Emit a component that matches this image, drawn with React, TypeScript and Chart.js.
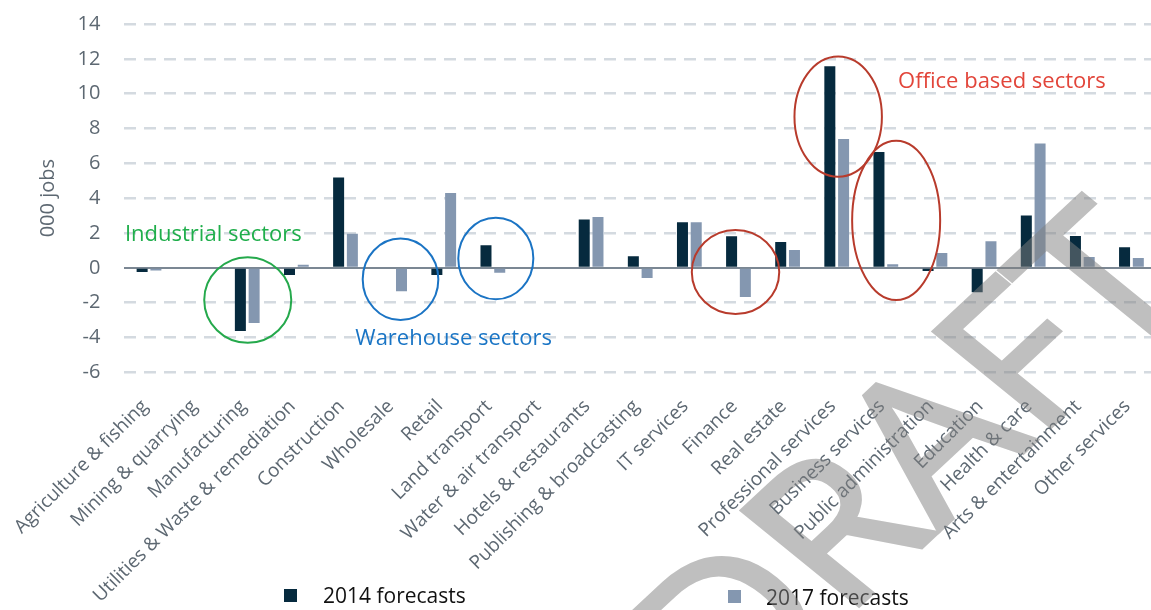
import React, { useEffect, useRef } from "react";
import { Chart, registerables } from "chart.js";

Chart.register(...registerables);

// ---------- data ----------
const categories = [
  "Agriculture & fishing",
  "Mining & quarrying",
  "Manufacturing",
  "Utilities & Waste & remediation",
  "Construction",
  "Wholesale",
  "Retail",
  "Land transport",
  "Water & air transport",
  "Hotels & restaurants",
  "Publishing & broadcasting",
  "IT services",
  "Finance",
  "Real estate",
  "Professional services",
  "Business services",
  "Public administration",
  "Education",
  "Health & care",
  "Arts & entertainment",
  "Other services",
];

const forecast2014 = [
  -0.24, 0, -3.63, -0.41, 5.18, 0, -0.41, 1.29, 0, 2.77, 0.66, 2.61, 1.81, 1.48,
  11.57, 6.65, -0.18, -1.41, 3.0, 1.82, 1.18,
];

const forecast2017 = [
  -0.16, 0, -3.17, 0.18, 1.96, -1.35, 4.3, -0.28, 0, 2.92, -0.58, 2.61, -1.68,
  1.02, 7.4, 0.2, 0.85, 1.52, 7.14, 0.62, 0.57,
];

const seriesLabels = ["2014 forecasts", "2017 forecasts"];
const yTickMin = -6;
const yTickMax = 14;
const yTickStep = 2;

// ---------- annotations (anchored in data space) ----------
const circleCategory = [2.01, 5.12, 7.06, 11.94, 14.03, 15.21];
const circleValue = [-1.85, -0.66, 0.53, -0.24, 8.68, 2.72];
const circleHalfWidth = [0.886, 0.77, 0.764, 0.89, 0.89, 0.896]; // in categories
const circleHalfHeight = [2.46, 2.34, 2.34, 2.41, 3.45, 4.57]; // in value units
const circleColor = ["#25a94c", "#1b74c4", "#1b74c4", "#b83b2c", "#b83b2c", "#b83b2c"];

const noteText = ["Industrial sectors", "Warehouse sectors", "Office based sectors"];
const noteCategory = [-0.49, 4.2, 15.25];
const noteValue = [1.88, -4.09, 10.67];
const noteColor = ["#1fae4b", "#1a75c5", "#e2453a"];

const DARK = "#062a3e";
const LIGHT = "#8497b0";
const TICK_COLOR = "#5d6872";
const FONT = "'Open Sans', 'Liberation Sans', sans-serif";

const annotationPlugin = {
  id: "sectorNotes",
  afterDatasetsDraw(chart: any) {
    const { ctx, scales } = chart;
    const x = scales.x;
    const y = scales.y;
    const catW = x.getPixelForValue(1) - x.getPixelForValue(0);
    const unitH = Math.abs(y.getPixelForValue(0) - y.getPixelForValue(1));
    ctx.save();
    for (let i = 0; i < circleCategory.length; i++) {
      ctx.beginPath();
      ctx.ellipse(
        x.getPixelForValue(circleCategory[i]),
        y.getPixelForValue(circleValue[i]),
        circleHalfWidth[i] * catW,
        circleHalfHeight[i] * unitH,
        0,
        0,
        Math.PI * 2
      );
      ctx.strokeStyle = circleColor[i];
      ctx.lineWidth = 2;
      ctx.stroke();
    }
    ctx.font = `22px ${FONT}`;
    ctx.textAlign = "left";
    ctx.textBaseline = "middle";
    for (let i = 0; i < noteText.length; i++) {
      ctx.fillStyle = noteColor[i];
      ctx.fillText(noteText[i], x.getPixelForValue(noteCategory[i]), y.getPixelForValue(noteValue[i]));
    }
    ctx.restore();
  },
};

const legendBoxX = [284, 728];
const legendBoxY = [589, 590];
const legendTextX = [323, 766];
const legendTextY = [597, 599];

const legendPlugin = {
  id: "spreadLegend",
  afterDraw(chart: any) {
    const { ctx } = chart;
    ctx.save();
    chart.data.datasets.forEach((ds: any, i: number) => {
      ctx.fillStyle = ds.backgroundColor;
      ctx.fillRect(legendBoxX[i], legendBoxY[i], 13, 13);
      ctx.fillStyle = "#111111";
      ctx.font = `21px ${FONT}`;
      ctx.textAlign = "left";
      ctx.textBaseline = "middle";
      ctx.fillText(ds.label, legendTextX[i], legendTextY[i]);
    });
    ctx.restore();
  },
};

// watermark: text axis (baseline) and down axis as measured on the reference
const WM_TEXT = "DRAFT";
const WM_SIZE = 210;
const WM_BASE = [0.7314, -0.682];
const WM_DOWN = [0.776, 0.631];
const WM_F_X = 1036;
const WM_F_Y = 440;

const watermarkPlugin = {
  id: "draftWatermark",
  afterDraw(chart: any) {
    const { ctx } = chart;
    const off = document.createElement("canvas");
    off.width = chart.width;
    off.height = chart.height;
    const o = off.getContext("2d");
    if (!o) return;
    o.setTransform(WM_BASE[0], WM_BASE[1], WM_DOWN[0], WM_DOWN[1], WM_F_X, WM_F_Y);
    o.font = `400 ${WM_SIZE}px ${FONT}`;
    o.fillStyle = "#808080";
    o.strokeStyle = "#808080";
    o.lineWidth = 5;
    o.lineJoin = "miter";
    o.textAlign = "left";
    o.textBaseline = "alphabetic";
    const pre = o.measureText(WM_TEXT.slice(0, 3)).width;
    o.fillText(WM_TEXT, -pre, 0);
    o.strokeText(WM_TEXT, -pre, 0);
    ctx.save();
    ctx.setTransform(1, 0, 0, 1, 0, 0);
    ctx.globalAlpha = 0.5;
    ctx.drawImage(off, 0, 0);
    ctx.restore();
  },
};

export default function App() {
  const canvasRef = useRef<HTMLCanvasElement | null>(null);

  useEffect(() => {
    if (!canvasRef.current) return;
    const chart = new Chart(canvasRef.current, {
      type: "bar",
      data: {
        labels: categories,
        datasets: [
          {
            label: seriesLabels[0],
            data: forecast2014,
            backgroundColor: DARK,
            categoryPercentage: 0.56,
            barPercentage: 0.8,
          },
          {
            label: seriesLabels[1],
            data: forecast2017,
            backgroundColor: LIGHT,
            categoryPercentage: 0.56,
            barPercentage: 0.8,
          },
        ],
      },
      options: {
        animation: false,
        responsive: false,
        maintainAspectRatio: false,
        layout: { padding: { top: 24, left: 0, right: 0, bottom: 0 } },
        plugins: {
          legend: { display: false },
          tooltip: { enabled: false },
        },
        scales: {
          x: {
            grid: { display: false },
            border: { display: false },
            ticks: {
              autoSkip: false,
              minRotation: 45,
              maxRotation: 45,
              padding: 15,
              labelOffset: -4,
              color: TICK_COLOR,
              font: { family: FONT, size: 19 },
            },
            afterFit: (s: any) => {
              s.height = 610 - 372.3;
              s.paddingLeft = 0;
              s.paddingRight = 0;
            },
          },
          y: {
            min: yTickMin,
            max: yTickMax,
            ticks: {
              stepSize: yTickStep,
              padding: 24,
              color: TICK_COLOR,
              font: { family: FONT, size: 20 },
            },
            grid: {
              drawTicks: false,
              color: (c: any) => (c.tick && c.tick.value === 0 ? "#7b8793" : "#d4dae0"),
              lineWidth: (c: any) => (c.tick && c.tick.value === 0 ? 2 : 2.5),
            },
            border: {
              display: false,
              dash: (c: any) => (c.tick && c.tick.value === 0 ? [] : [12, 8]),
            },
            title: {
              display: true,
              text: "000 jobs",
              color: TICK_COLOR,
              font: { family: FONT, size: 20 },
              padding: { top: 36, bottom: 0 },
            },
            afterFit: (s: any) => {
              s.width = 124.45;
              s.paddingTop = 0;
              s.paddingBottom = 0;
            },
          },
        },
      },
      plugins: [annotationPlugin, legendPlugin, watermarkPlugin],
    } as any);
    return () => chart.destroy();
  }, []);

  return (
    <div
      style={{
        position: "absolute",
        left: 0,
        top: 0,
        width: 1151,
        height: 610,
        overflow: "hidden",
        background: "#ffffff",
      }}
    >
      <canvas
        ref={canvasRef}
        width={1156}
        height={610}
        style={{ display: "block", width: 1156, height: 610 }}
      />
    </div>
  );
}
